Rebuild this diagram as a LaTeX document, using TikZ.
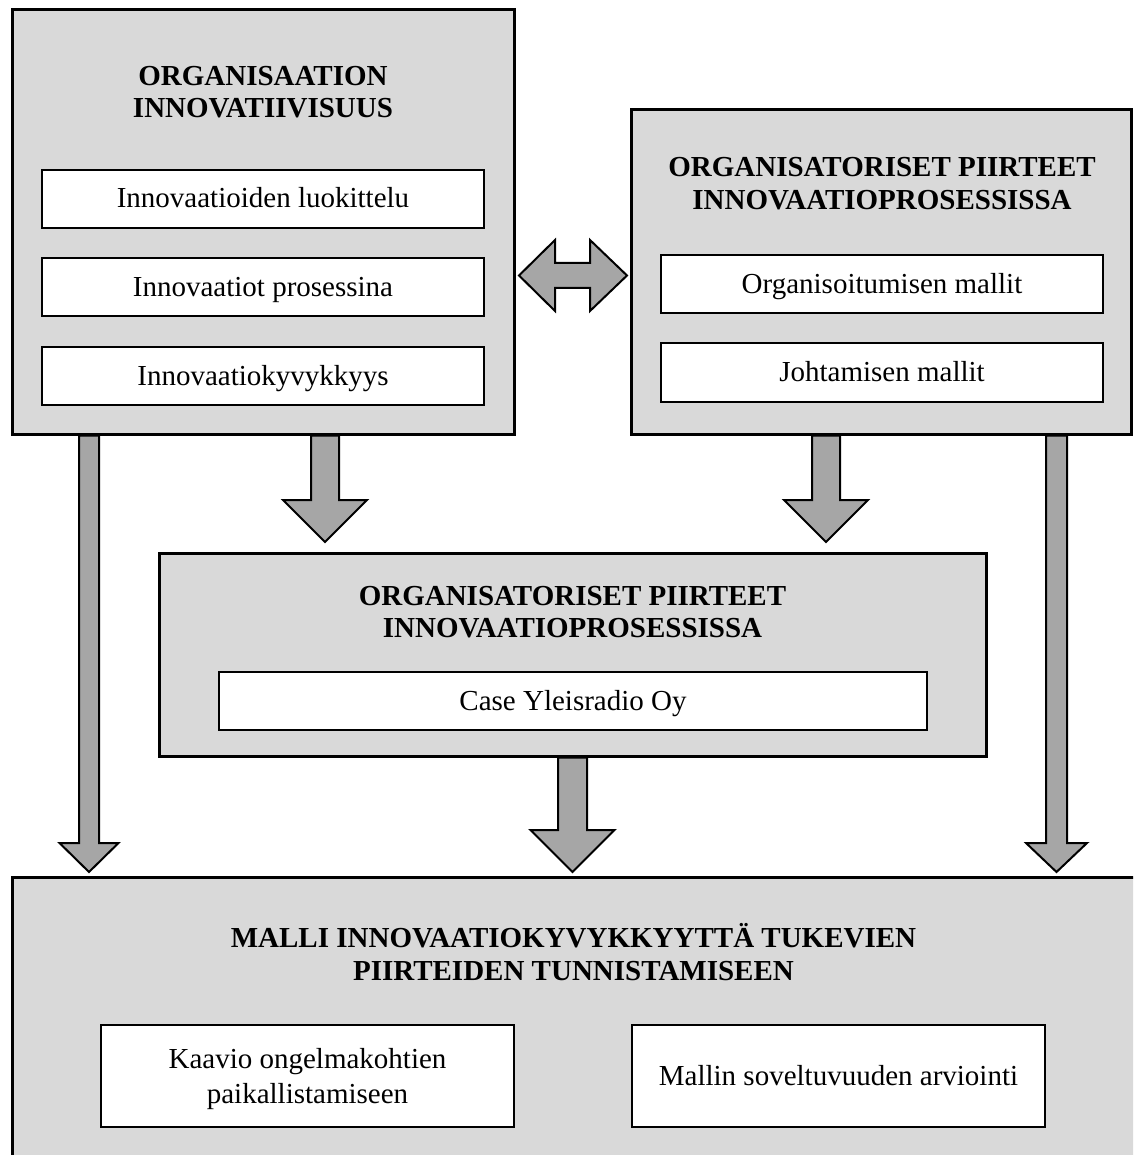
\documentclass[tikz,border=0pt]{standalone}
\usepackage{fontspec}
\setmainfont{Liberation Serif}
\usetikzlibrary{calc}
\pgfdeclarelayer{bg}
\pgfsetlayers{bg,main}

\definecolor{panelgray}{HTML}{D9D9D9}
\definecolor{arrowgray}{HTML}{A6A6A6}

\tikzset{
  outerbox/.style={draw=black, line width=3pt, fill=panelgray, rectangle, inner sep=0pt},
  innerbox/.style={draw=black, line width=2.4pt, fill=white, rectangle, inner sep=0pt},
  itemtext/.style={inner sep=0pt, anchor=base, font=\fontsize{29}{35}\selectfont},
  titletext/.style={inner sep=0pt, align=center, font=\fontsize{29}{32.5}\selectfont\bfseries},
  blockarrow/.style={draw=black, line width=2pt, fill=arrowgray, line join=miter},
}

% vertical block arrow: start point, tip point, half shaft width, half head width, head length
\newcommand\downblock[5]{%
  \draw[blockarrow] let \p1=(#1), \p2=(#2) in
    (\x1-#3,\y1) -- (\x1-#3,\y2+#5) -- (\x1-#4,\y2+#5) -- (\x2,\y2)
    -- (\x1+#4,\y2+#5) -- (\x1+#3,\y2+#5) -- (\x1+#3,\y1) -- cycle;}

\begin{document}
\begin{tikzpicture}[x=1pt,y=-1pt]
\useasboundingbox (0,0) rectangle (1133,1155);
\clip (0,0) rectangle (1133,1155);

% main panels
\node[outerbox, minimum width=502, minimum height=424] (A) at (263,222) {};
\node[outerbox, minimum width=500, minimum height=324] (B) at (881,272) {};
\node[outerbox, minimum width=827, minimum height=203] (M) at (572.5,654.5) {};
\node[outerbox, minimum width=1200, minimum height=320] (Z) at (612,1037) {};

% panel titles
\node[titletext] (Atitle) at (263,92) {ORGANISAATION\\INNOVATIIVISUUS};
\node[titletext] (Btitle) at (882,183.5) {ORGANISATORISET PIIRTEET\\INNOVAATIOPROSESSISSA};
\node[titletext] (Mtitle) at (572.5,612) {ORGANISATORISET PIIRTEET\\INNOVAATIOPROSESSISSA};
\node[titletext] (Ztitle) at (573.5,952) {MALLI INNOVAATIOKYVYKKYYTTÄ TUKEVIEN\\PIIRTEIDEN TUNNISTAMISEEN};

% content boxes
\node[innerbox, minimum width=442, minimum height=58] (A1) at (263,199) {};
\node[innerbox, minimum width=442, minimum height=58] (A2) at (263,287) {};
\node[innerbox, minimum width=442, minimum height=58] (A3) at (263,376) {};
\node[innerbox, minimum width=442, minimum height=58] (B1) at (882,284) {};
\node[innerbox, minimum width=442, minimum height=59] (B2) at (882,372.5) {};
\node[innerbox, minimum width=708, minimum height=58] (M1) at (573,701) {};
\node[innerbox, minimum width=413, minimum height=102] (Z1) at (307.5,1076) {};
\node[innerbox, minimum width=413, minimum height=102] (Z2) at (838.5,1076) {};

% content labels, set on their baselines
\node[itemtext] (A1t) at ($(A1.center)+(0,9)$) {Innovaatioiden luokittelu};
\node[itemtext] (A2t) at ($(A2.center)+(0,9.5)$) {Innovaatiot prosessina};
\node[itemtext] (A3t) at ($(A3.center)+(0,9)$) {Innovaatiokyvykkyys};
\node[itemtext] (B1t) at ($(B1.center)+(0,9.3)$) {Organisoitumisen mallit};
\node[itemtext] (B2t) at ($(B2.center)+(0,9.2)$) {Johtamisen mallit};
\node[itemtext] (M1t) at ($(M1.center)+(0,9)$) {Case Yleisradio Oy};
\node[itemtext] (Z1t) at ($(Z1.center)+(0,-8)$) {Kaavio ongelmakohtien};
\node[itemtext] (Z1u) at ($(Z1.center)+(0,27)$) {paikallistamiseen};
\node[itemtext] (Z2t) at ($(Z2.center)+(0,9)$) {Mallin soveltuvuuden arviointi};

% arrow end points
\coordinate (s1) at (A.south -| 325,0);   \coordinate (t1) at (325,542);
\coordinate (s2) at (B.south -| 826,0);   \coordinate (t2) at (826,542);
\coordinate (s3) at (M.south -| 572.5,0); \coordinate (t3) at (572.5,872);
\coordinate (s4) at (A.south -| 89,0);    \coordinate (t4) at (89,872);
\coordinate (s5) at (B.south -| 1056.5,0);\coordinate (t5) at (1056.5,872);
\coordinate (dl) at (519,275.5);
\coordinate (dr) at (627,275.5);

\begin{pgfonlayer}{bg}
  \downblock{s1}{t1}{14pt}{42pt}{42pt}
  \downblock{s2}{t2}{14pt}{42pt}{42pt}
  \downblock{s3}{t3}{14.5pt}{42pt}{42pt}
  \downblock{s4}{t4}{10pt}{29.5pt}{29pt}
  \downblock{s5}{t5}{10.5pt}{30.5pt}{29pt}
\end{pgfonlayer}

% two-way arrow between the upper panels
\draw[blockarrow] (dl) -- ($(dl)+(36,-35.5)$) -- ($(dl)+(36,-12.5)$) -- ($(dr)+(-37,-12.5)$)
  -- ($(dr)+(-37,-35.5)$) -- (dr) -- ($(dr)+(-37,35.5)$) -- ($(dr)+(-37,12.5)$)
  -- ($(dl)+(36,12.5)$) -- ($(dl)+(36,35.5)$) -- cycle;
\end{tikzpicture}
\end{document}
